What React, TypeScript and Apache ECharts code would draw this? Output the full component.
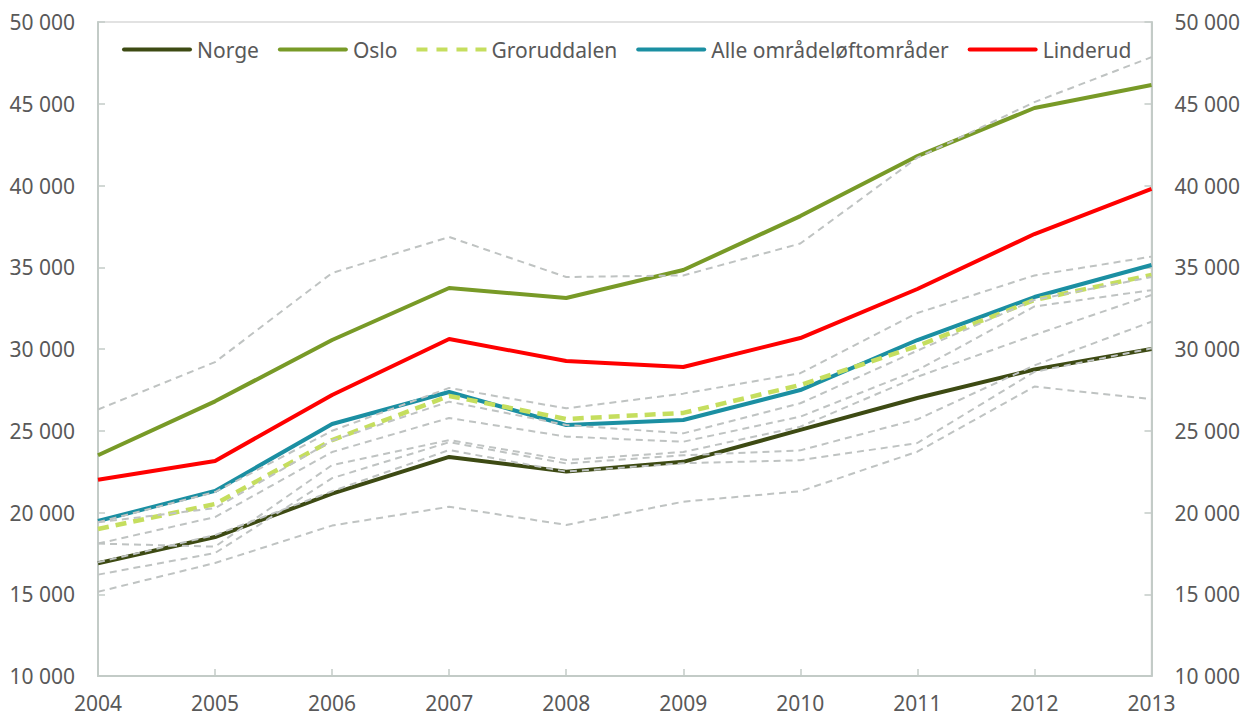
import React, { useEffect, useRef } from "react";
import * as echarts from "echarts";

const years = ["2004", "2005", "2006", "2007", "2008", "2009", "2010", "2011", "2012", "2013"];

const norge = [16900, 18500, 21150, 23400, 22500, 23100, 25050, 27000, 28750, 30000];
const oslo = [23500, 26800, 30550, 33730, 33120, 34830, 38130, 41800, 44740, 46150];
const groruddalen = [18990, 20520, 24430, 27130, 25720, 26090, 27800, 30180, 33000, 34530];
const alleOmrader = [19480, 21320, 25410, 27370, 25350, 25660, 27490, 30550, 33180, 35140];
const linderud = [22000, 23150, 27190, 30610, 29270, 28900, 30670, 33670, 37030, 39790];

// Grey dashed lines (other areas)
const greyA = [26300, 29200, 34650, 36850, 34400, 34500, 36450, 41700, 45100, 47850];
const greyB = [19400, 21250, 25000, 27620, 26370, 27270, 28520, 32200, 34500, 35650];
const greyC = [19400, 20270, 24400, 26780, 25350, 24840, 26680, 29900, 33000, 34400];
const greyD = [18100, 19720, 23700, 25780, 24640, 24330, 25860, 28700, 32600, 33600];
const greyE = [18100, 17910, 22900, 24430, 23210, 23700, 25250, 28300, 30860, 33300];
const greyF = [16950, 18620, 21300, 23820, 22500, 23010, 23200, 24250, 28600, 30040];
const greyG = [16200, 17520, 22100, 24300, 23000, 23500, 23800, 25700, 29000, 31670];
const greyH = [15150, 16910, 19200, 20350, 19240, 20660, 21300, 23720, 27700, 26930];

const greys = [greyA, greyB, greyC, greyD, greyE, greyF, greyG, greyH];

const FONT = "Noto Sans";
const TEXT = "#595959";
const AXIS = "#c3cbc7";

const SOLID_ICON = "path://M2,0h66a2,2 0 0 1 0,4h-66a2,2 0 0 1 0,-4z";
const DASH_ICON = "path://M0,0h11v4h-11z M20,0h11v4h-11z M40,0h11v4h-11z M59,0h11v4h-11z";

const fmt = (v: number) => String(v).replace(/\B(?=(\d{3})+(?!\d))/g, " ");

export default function App() {
  const ref = useRef<HTMLDivElement>(null);
  useEffect(() => {
    document.body.style.margin = "0";
    if (!ref.current) return;
    const chart = echarts.init(ref.current, null, { renderer: "svg" });
    const yAxisBase = {
      type: "value",
      min: 10000,
      max: 50000,
      interval: 5000,
      splitLine: { show: false },
      axisLine: { show: true, lineStyle: { color: AXIS, width: 2 } },
      axisTick: { show: true, inside: true, length: 7, lineStyle: { color: AXIS, width: 1.5 } },
      axisLabel: { formatter: fmt, color: TEXT, fontSize: 21, fontFamily: FONT, margin: 23 },
    };
    const mainLine = (name: string, data: number[], color: string, dashed = false, width = 4) => ({
      name,
      type: "line",
      data,
      symbol: "none",
      z: 3,
      lineStyle: { color, width, type: dashed ? [11, 7] : "solid" },
      itemStyle: { color },
    });
    chart.setOption({
      animation: false,
      backgroundColor: "#ffffff",
      textStyle: { fontFamily: FONT },
      grid: {
        left: 98,
        right: 91,
        top: 22,
        bottom: 41,
        show: true,
        borderColor: "#d9d9d9",
        borderWidth: 1.5,
        backgroundColor: "transparent",
      },
      legend: {
        data: [
          { name: "Norge", icon: SOLID_ICON },
          { name: "Oslo", icon: SOLID_ICON },
          { name: "Groruddalen", icon: DASH_ICON },
          { name: "Alle områdeløftområder", icon: SOLID_ICON },
          { name: "Linderud", icon: SOLID_ICON },
        ],
        left: 117,
        top: 34,
        itemWidth: 70,
        itemHeight: 4.5,
        itemGap: 19,
        textStyle: { color: TEXT, fontSize: 21, fontFamily: FONT },
      },
      xAxis: {
        type: "category",
        data: years,
        boundaryGap: false,
        axisLine: { show: true, lineStyle: { color: AXIS, width: 2 } },
        axisTick: { show: true, inside: true, length: 7, lineStyle: { color: AXIS, width: 1.5 } },
        axisLabel: { color: TEXT, fontSize: 21, fontFamily: FONT, margin: 16, interval: 0 },
        splitLine: { show: false },
      },
      yAxis: [
        { ...yAxisBase, position: "left" },
        { ...yAxisBase, position: "right" },
      ],
      series: [
        mainLine("Norge", norge, "#3d4a13"),
        mainLine("Oslo", oslo, "#789a27"),
        mainLine("Alle områdeløftområder", alleOmrader, "#1b8fa2"),
        mainLine("Groruddalen", groruddalen, "#c5de5e", true, 4.5),
        mainLine("Linderud", linderud, "#ff0000"),
        ...greys.map((d, i) => ({
          name: "grey" + i,
          type: "line",
          data: d,
          symbol: "none",
          z: 4,
          silent: true,
          lineStyle: { color: "#bfc3c2", width: 2, type: [7, 5] },
        })),
      ],
    });
    return () => chart.dispose();
  }, []);
  return <div ref={ref} style={{ width: 1243, height: 717 }} />;
}
